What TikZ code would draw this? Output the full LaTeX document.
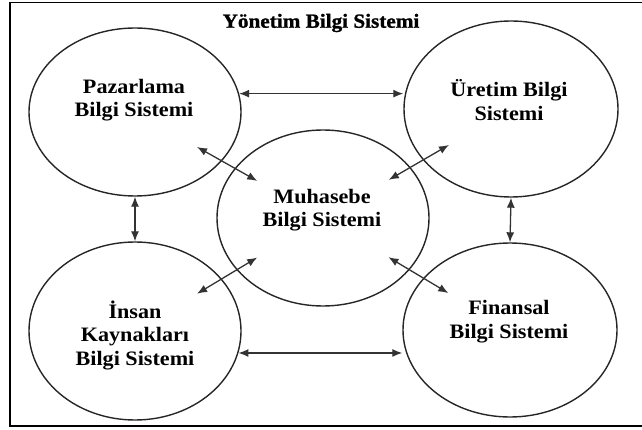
\documentclass[tikz,border=0pt]{standalone}
\usepackage{fontspec}
\setmainfont{Liberation Serif}[FakeStretch=1.08]
\newfontfamily\titlefont{Liberation Serif Bold}[FakeStretch=1.06,FakeBold=1.2]
\usetikzlibrary{shapes.geometric,arrows.meta,calc}
\begin{document}
\begin{tikzpicture}[x=1pt,y=-1pt,
  sysell/.style={draw=black!85, line width=1.4pt, ellipse, inner sep=0pt},
  systxt/.style={align=center, font=\fontsize{20.5}{23.5}\selectfont\bfseries, inner sep=0pt},
  link/.style={draw=black!80, line width=1.3pt, {Latex[length=10pt,width=8pt]}-{Latex[length=10pt,width=8pt]}}
]
\useasboundingbox (0,0) rectangle (642,430);
\draw[line width=1.4pt] (642,2.5) -- (10,2.5) -- (10,426) -- (642,426);
\node[font=\fontsize{20}{23}\selectfont\titlefont, inner sep=0pt] (title) at (321,23) {Yönetim Bilgi Sistemi};
\node[sysell, minimum width=212pt, minimum height=168pt] (p) at (135,112) {};
\node[sysell, minimum width=214pt, minimum height=176pt] (u) at (511,109) {};
\node[sysell, minimum width=212pt, minimum height=176pt] (m) at (323,218) {};
\node[sysell, minimum width=212pt, minimum height=178pt] (i) at (135,331) {};
\node[sysell, minimum width=214pt, minimum height=174pt] (f) at (510,330) {};
\node[systxt] (pt) at (134,100) {Pazarlama\\Bilgi Sistemi};
\node[systxt] (ut) at (509,100) {Üretim Bilgi\\Sistemi};
\node[systxt] (mt) at (322,210) {Muhasebe\\Bilgi Sistemi};
\node[systxt] (it) at (135,335) {İnsan\\Kaynakları\\Bilgi Sistemi};
\node[systxt] (ft) at (509,321.5) {Finansal\\Bilgi Sistemi};
\draw[link] (p.10) -- (p.10 -| u.west);
\draw[link] (i.-12) -- (i.-12 -| f.west);
\draw[link] (p.south) -- (i.north);
\draw[link] (u.south) -- (f.north);
\draw[link] ($(p.center)!0.33!(m.center)$) -- ($(p.center)!0.65!(m.center)$);
\draw[link] ($(u.center)!0.33!(m.center)$) -- ($(u.center)!0.65!(m.center)$);
\draw[link] ($(i.center)!0.33!(m.center)$) -- ($(i.center)!0.65!(m.center)$);
\draw[link] ($(f.center)!0.33!(m.center)$) -- ($(f.center)!0.65!(m.center)$);
\end{tikzpicture}
\end{document}
